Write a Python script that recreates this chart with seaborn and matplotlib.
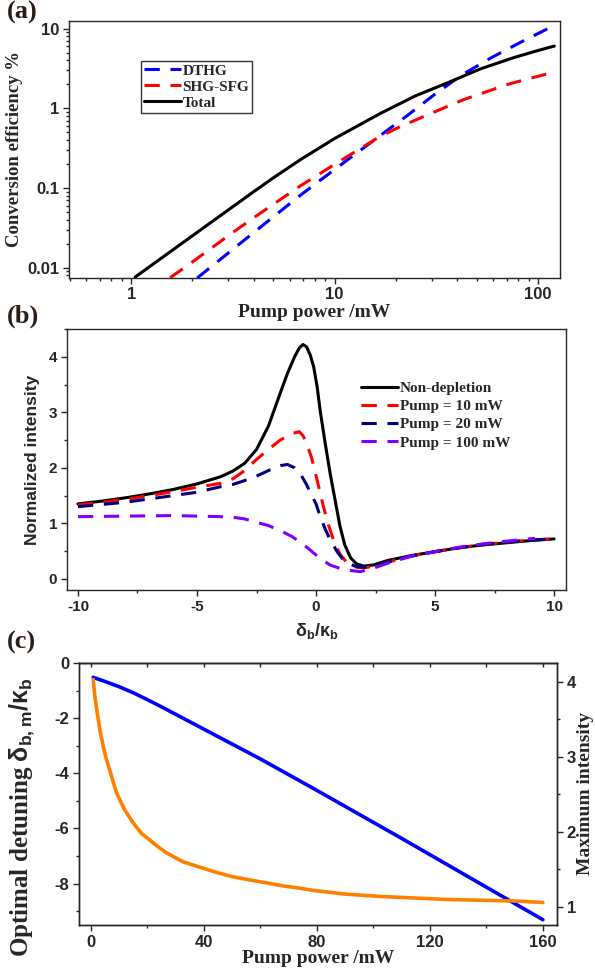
import numpy as np
import matplotlib
matplotlib.use("Agg")
import matplotlib.pyplot as plt
import matplotlib.ticker as mticker
import seaborn as sns

# -------------------------------------------------
# 1. DATA
# -------------------------------------------------
# (a) conversion efficiency vs pump power (log-log)
pump_total = [1.046, 2, 3, 4, 5, 6.8, 10, 16.85, 25, 36, 52, 76, 100, 120]
eff_total = [0.00764, 0.0252, 0.0531, 0.0901, 0.1346, 0.228, 0.419, 0.87, 1.44, 2.10, 3.13, 4.34, 5.33, 6.05]

pump_dthg = [2.11, 3.86, 5.42, 6.80, 9.9, 16.85, 22.9, 30.7, 41.9, 58.6, 82.4, 120]
eff_dthg = [0.00743, 0.0257, 0.0514, 0.0817, 0.168, 0.462, 0.824, 1.47, 2.60, 4.30, 6.80, 11.0]

pump_shg = [1.556, 1.886, 3.18, 4.32, 6.80, 10.7, 16.85, 21, 26.45, 34, 43.1, 55, 71.8, 95, 120]
eff_shg = [0.00753, 0.0106, 0.0281, 0.0486, 0.107, 0.221, 0.45, 0.59, 0.76, 1.0, 1.29, 1.6, 2.02, 2.45, 2.85]

# (b) normalized intensity vs detuning
det_nd = [-10, -9, -8, -7, -6, -5, -4, -3.5, -3, -2.5, -2, -1.5, -1.2, -0.9, -0.7, -0.55, -0.4,
          -0.25, -0.1, 0.05, 0.17, 0.4, 0.6, 0.8, 1.0, 1.2, 1.45, 1.7, 2.0, 2.4, 3, 4, 5, 6, 7, 8, 9, 10]
int_nd = [1.35, 1.40, 1.46, 1.53, 1.61, 1.71, 1.84, 1.94, 2.08, 2.33, 2.75, 3.35, 3.70, 4.00, 4.16, 4.22,
          4.18, 4.04, 3.82, 3.45, 3.04, 2.40, 1.88, 1.42, 0.96, 0.62, 0.38, 0.27, 0.23, 0.25, 0.33, 0.42,
          0.49, 0.56, 0.61, 0.65, 0.69, 0.72]

det_10 = [-10, -9, -8, -7, -6, -5, -4, -3.5, -3, -2.5, -2, -1.5, -1.0, -0.7, -0.55, -0.4, -0.2, 0.0,
          0.3, 0.5, 0.75, 1.0, 1.3, 1.7, 2.0, 2.5, 3, 4, 5, 6, 7, 8, 9, 10]
int_10 = [1.33, 1.38, 1.43, 1.50, 1.57, 1.65, 1.72, 1.80, 1.95, 2.15, 2.33, 2.50, 2.62, 2.65, 2.58, 2.45,
          2.20, 1.86, 1.32, 1.00, 0.68, 0.45, 0.29, 0.21, 0.20, 0.23, 0.30, 0.41, 0.49, 0.56, 0.62, 0.66,
          0.70, 0.72]

det_20 = [-10, -9, -8, -7, -6, -5, -4, -3.5, -3, -2.5, -2, -1.5, -1.2, -0.9, -0.67, -0.4, -0.25, 0.0,
          0.17, 0.4, 0.6, 0.9, 1.15, 1.4, 1.7, 2.0, 2.3, 3, 4, 5, 6, 7, 8, 9, 10]
int_20 = [1.30, 1.34, 1.38, 1.44, 1.50, 1.56, 1.66, 1.70, 1.77, 1.85, 1.95, 2.04, 2.06, 2.00, 1.90, 1.70,
          1.56, 1.35, 1.13, 0.88, 0.70, 0.48, 0.34, 0.27, 0.22, 0.21, 0.22, 0.30, 0.41, 0.49, 0.56, 0.62,
          0.66, 0.70, 0.72]

det_100 = [-10, -8, -6, -5, -4, -3.5, -3, -2.6, -2, -1.5, -1.0, -0.67, -0.3, -0.11, 0.2, 0.59, 1.0,
           1.29, 1.85, 2.4, 3.0, 3.4, 4.0, 5, 6, 7, 8, 9.2]
int_100 = [1.12, 1.13, 1.14, 1.13, 1.12, 1.11, 1.08, 1.03, 0.96, 0.87, 0.76, 0.66, 0.54, 0.47, 0.36,
           0.25, 0.19, 0.16, 0.13, 0.19, 0.28, 0.33, 0.41, 0.49, 0.57, 0.63, 0.68, 0.73]

# (c) optimal detuning (left axis) and maximum intensity (right axis) vs pump power
pump_c_det = [0.8, 5, 10, 15, 20, 25, 30, 40, 50, 60, 70, 80, 90, 100, 110, 120, 130, 140, 150, 160]
opt_det = [-0.52, -0.67, -0.86, -1.08, -1.33, -1.59, -1.86, -2.40, -2.94, -3.48, -4.05, -4.62, -5.20,
           -5.78, -6.36, -6.95, -7.54, -8.13, -8.72, -9.31]

pump_c_max = [0.83, 1.42, 2.0, 3.19, 4.37, 5.55, 7.32, 9.09, 12.0, 15.0, 17.9, 20.9, 23.8, 26.8, 32.7,
              38.6, 44.5, 50.4, 56.3, 62.2, 68.1, 74.0, 78.7, 90.5, 102.3, 114.1, 125.9, 137.7, 149.5, 160]
max_int = [4.03, 3.80, 3.65, 3.36, 3.14, 2.96, 2.74, 2.52, 2.29, 2.12, 1.98, 1.89, 1.80, 1.72, 1.60,
           1.53, 1.46, 1.40, 1.36, 1.32, 1.28, 1.25, 1.22, 1.17, 1.14, 1.12, 1.10, 1.09, 1.08, 1.06]

# -------------------------------------------------
# 2. STYLE
# -------------------------------------------------
sns.set_style("ticks")
plt.rcParams["font.family"] = ["Liberation Sans", "DejaVu Sans"]
plt.rcParams["font.weight"] = "bold"
plt.rcParams["axes.unicode_minus"] = False
plt.rcParams["mathtext.fontset"] = "custom"
plt.rcParams["mathtext.rm"] = "Liberation Sans"
plt.rcParams["mathtext.sf"] = "Liberation Sans"
plt.rcParams["mathtext.bf"] = "Liberation Sans:bold"
plt.rcParams["axes.linewidth"] = 1.0

SERIF = ["Liberation Serif", "DejaVu Serif"]
dash = (0, (5, 3.5))
LW = 2.2


def style_ticks(ax, size=11):
    ax.tick_params(which="major", direction="out", length=4, width=1, labelsize=size,
                   top=False, right=False, pad=3)
    ax.tick_params(which="minor", direction="out", length=2.5, width=1, top=False, right=False)
    for lab in ax.get_xticklabels() + ax.get_yticklabels():
        lab.set_fontweight("bold")


fig = plt.figure(figsize=(5.95, 9.71), dpi=100)

# -------------------------------------------------
# 3. PANEL (a)
# -------------------------------------------------
ax1 = fig.add_axes([0.116, 0.714, 0.8252, 0.2647])
ax1.set_xscale("log")
ax1.set_yscale("log")
sns.lineplot(x=pump_dthg, y=eff_dthg, ax=ax1, color="#0000ff", lw=LW, linestyle=dash, label="DTHG")
sns.lineplot(x=pump_shg, y=eff_shg, ax=ax1, color="#ff0000", lw=LW, linestyle=dash, label="SHG-SFG")
sns.lineplot(x=pump_total, y=eff_total, ax=ax1, color="black", lw=LW, label="Total")
ax1.set_xlim(0.495, 128)
ax1.set_ylim(0.0075, 12.6)
ax1.set_xticks([1, 10, 100])
ax1.xaxis.set_major_formatter(mticker.FixedFormatter(["1", "10", "100"]))
ax1.set_yticks([0.01, 0.1, 1, 10])
ax1.yaxis.set_major_formatter(mticker.FixedFormatter(["0.01", "0.1", "1", "10"]))
ax1.xaxis.set_minor_locator(mticker.LogLocator(base=10, subs=np.arange(2, 10)))
ax1.yaxis.set_minor_locator(mticker.LogLocator(base=10, subs=np.arange(2, 10)))
ax1.xaxis.set_minor_formatter(mticker.NullFormatter())
ax1.yaxis.set_minor_formatter(mticker.NullFormatter())
style_ticks(ax1, size=12)
ax1.set_xlabel("Pump power /mW", fontfamily=SERIF, fontweight="bold", fontsize=14, labelpad=1)
ax1.set_ylabel("Conversion efficiency %", fontfamily=SERIF, fontweight="bold", fontsize=13.5, labelpad=3)
leg1 = ax1.legend(loc="upper left", bbox_to_anchor=(0.147, 0.844), frameon=True, fancybox=False,
                  edgecolor="black", handlelength=2.4, handletextpad=0.1, labelspacing=0.15,
                  borderpad=0.2, borderaxespad=0, prop={"family": SERIF, "weight": "bold", "size": 11})
leg1.get_frame().set_linewidth(1.0)

# -------------------------------------------------
# 4. PANEL (b)
# -------------------------------------------------
ax2 = fig.add_axes([0.1126, 0.3924, 0.8387, 0.2688])
sns.lineplot(x=det_nd, y=int_nd, ax=ax2, color="black", lw=LW, label="Non-depletion")
sns.lineplot(x=det_10, y=int_10, ax=ax2, color="#ff0000", lw=LW, linestyle=dash, label="Pump = 10 mW")
sns.lineplot(x=det_20, y=int_20, ax=ax2, color="#000080", lw=LW, linestyle=dash, label="Pump = 20 mW")
sns.lineplot(x=det_100, y=int_100, ax=ax2, color="#8000ff", lw=LW, linestyle=dash, label="Pump = 100 mW")
ax2.set_xlim(-10.46, 10.5)
ax2.set_ylim(-0.2, 4.5)
ax2.set_xticks([-10, -5, 0, 5, 10])
ax2.set_yticks([0, 1, 2, 3, 4])
ax2.xaxis.set_minor_locator(mticker.MultipleLocator(2.5))
ax2.yaxis.set_minor_locator(mticker.MultipleLocator(0.5))
style_ticks(ax2, size=11)
ax2.set_xlabel(r"$\mathsf{\delta}_{\mathbf{b}}\mathbf{/}\mathsf{\kappa}_{\mathbf{b}}$", fontsize=13, labelpad=5)
ax2.set_ylabel("Normalized intensity", fontweight="bold", fontsize=12.5, labelpad=6)
ax2.legend(loc="upper left", bbox_to_anchor=(0.59, 0.80), frameon=False, handlelength=2.4,
           handletextpad=0.1, labelspacing=0.3, borderpad=0, borderaxespad=0,
           prop={"family": SERIF, "weight": "bold", "size": 11})

# -------------------------------------------------
# 5. PANEL (c) + twin axis
# -------------------------------------------------
ax3 = fig.add_axes([0.1328, 0.0474, 0.8034, 0.2698])
sns.lineplot(x=pump_c_det, y=opt_det, ax=ax3, color="#0000ff", lw=2.6)
ax3.set_xlim(-4.2, 165)
ax3.set_ylim(-9.5, 0)
ax3.set_xticks([0, 40, 80, 120, 160])
ax3.set_yticks([-8, -6, -4, -2, 0])
ax3.xaxis.set_minor_locator(mticker.MultipleLocator(20))
ax3.yaxis.set_minor_locator(mticker.MultipleLocator(1))
style_ticks(ax3, size=12)
ax3.set_xlabel("Pump power /mW", fontfamily=SERIF, fontweight="bold", fontsize=14, labelpad=0)
ax3.set_ylabel(r"Optimal detuning $\mathsf{\delta}_{\mathbf{b,m}}\mathbf{/}\mathsf{\kappa}_{\mathbf{b}}$",
               fontfamily=SERIF, fontweight="bold", fontsize=18)
ax3.yaxis.set_label_coords(-0.088, 0.41)

top = ax3.secondary_xaxis("top")
top.set_xticks(np.arange(0, 161, 20))
top.tick_params(direction="in", length=3, width=1, labeltop=False)

ax3b = ax3.twinx()
sns.lineplot(x=pump_c_max, y=max_int, ax=ax3b, color="#ff8000", lw=2.6)
ax3b.set_ylim(0.76, 4.25)
ax3b.set_yticks([1, 2, 3, 4])
ax3b.yaxis.set_minor_locator(mticker.MultipleLocator(0.5))
ax3b.tick_params(which="major", direction="out", length=4, width=1, labelsize=12, pad=3)
ax3b.tick_params(which="minor", direction="out", length=2.5, width=1)
for lab in ax3b.get_yticklabels():
    lab.set_fontweight("bold")
ax3b.set_ylabel("Maximum intensity", fontfamily=SERIF, fontweight="bold", fontsize=14, labelpad=1)

# -------------------------------------------------
# 6. PANEL LETTERS + SAVE
# -------------------------------------------------
for ypos, letter in [(0.999, "(a)"), (0.686, "(b)"), (0.350, "(c)")]:
    fig.text(0.012, ypos, letter, fontfamily=SERIF, fontweight="bold", fontsize=19,
             color="#2b1d16", va="top", ha="left")

fig.savefig("out.png", dpi=100)
